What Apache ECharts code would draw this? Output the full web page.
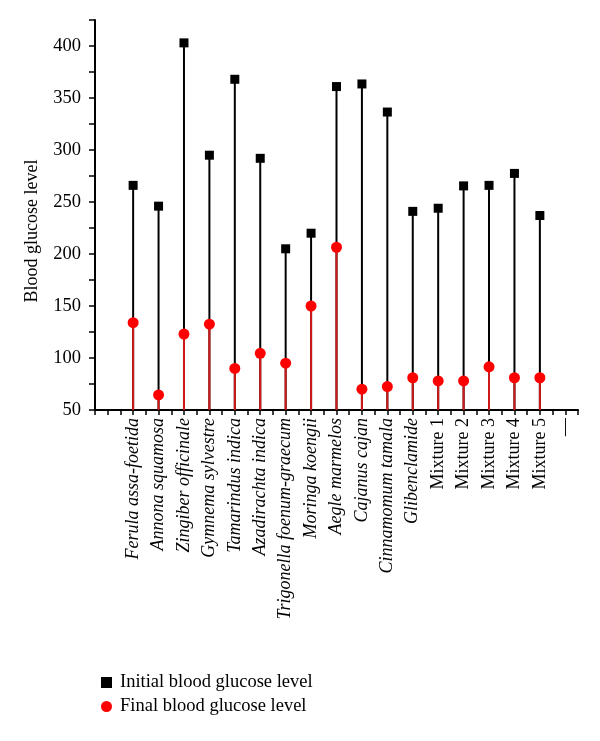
<!DOCTYPE html>
<html>
<head>
<meta charset="utf-8">
<script src="https://cdn.jsdelivr.net/npm/echarts@6/dist/echarts.min.js"></script>
<style>html,body{margin:0;padding:0;background:#fff;}#c{width:600px;height:741px;}</style>
</head>
<body>
<div id="c"></div>
<script>
const categories = ['Ferula assa-foetida','Annona squamosa','Zingiber officinale','Gymnema sylvestre','Tamarindus indica','Azadirachta indica','Trigonella foenum-graecum','Moringa koengii','Aegle marmelos','Cajanus cajan','Cinnamomum tamala','Glibenclamide','Mixture 1','Mixture 2','Mixture 3','Mixture 4','Mixture 5','\u2014'];
const initialLevels = [266, 246, 403, 295, 368, 292, 205, 220, 361, 363.5, 336.5, 241, 244, 265.5, 266, 277.5, 237];
const finalLevels = [134, 64.5, 123, 132.5, 90, 104.5, 95, 150, 206.5, 70, 72.5, 81, 78, 78, 91.5, 81, 81];
const yTickLabels = [50, 100, 150, 200, 250, 300, 350, 400];
const seriesNames = ['Initial blood glucose level', 'Final blood glucose level'];
const yTitle = 'Blood glucose level';

const FONT = '"Liberation Serif", "DejaVu Serif", serif';
const initPts = initialLevels.map((v, i) => [i + 1, v]);
const finPts = finalLevels.map((v, i) => [i + 1, v]);

const chart = echarts.init(document.getElementById('c'), null, {renderer: 'canvas'});
chart.setOption({
  animation: false,
  backgroundColor: '#fff',
  grid: {left: 95, right: 22, top: 20, bottom: 331, containLabel: false},
  xAxis: {
    type: 'value', min: -0.5, max: 18.5, interval: 0.5,
    axisLine: {show: true, onZero: false, lineStyle: {color: '#000', width: 2}},
    axisTick: {show: true, inside: false, length: 5, lineStyle: {color: '#000', width: 1.5}},
    splitLine: {show: false},
    axisLabel: {
      rotate: 90, margin: 8, color: '#000', fontFamily: FONT, fontSize: 18,
      showMinLabel: true, showMaxLabel: true,
      formatter: function (v) {
        if (!Number.isInteger(v) || v < 1 || v > categories.length) return '';
        const name = categories[v - 1];
        const roman = /^Mixture/.test(name) || name === '\u2014';
        return roman ? '{r|' + name + '}' : '{i|' + name + '}';
      },
      rich: {
        i: {fontStyle: 'italic', fontFamily: FONT, fontSize: 18, color: '#000'},
        r: {fontStyle: 'normal', fontFamily: FONT, fontSize: 18, color: '#000'}
      }
    }
  },
  yAxis: {
    type: 'value', min: 50, max: 425, interval: 25,
    axisLine: {show: true, onZero: false, lineStyle: {color: '#000', width: 2}},
    axisTick: {show: true, inside: false, length: 6, lineStyle: {color: '#000', width: 1.5}},
    splitLine: {show: false},
    axisLabel: {
      margin: 14, color: '#000', fontFamily: FONT, fontSize: 18.5,
      formatter: function (v) { return yTickLabels.indexOf(v) >= 0 ? String(v) : ''; }
    }
  },
  legend: {
    orient: 'vertical', left: 101, top: 673, padding: 0, itemWidth: 11, itemHeight: 11, itemGap: 5,
    textStyle: {fontFamily: FONT, fontSize: 18.5, color: '#000', padding: [0, 0, 0, 3]},
    data: [
      {name: seriesNames[0], icon: 'rect'},
      {name: seriesNames[1], icon: 'circle'}
    ]
  },
  graphic: [{
    type: 'text', x: 32, y: 231, rotation: Math.PI / 2,
    style: {text: yTitle, font: '18px ' + FONT, fill: '#000', align: 'center', verticalAlign: 'middle'}
  }],
  series: [
    {
      name: seriesNames[0] + ' stem', type: 'bar', data: initPts, barWidth: 2, barGap: '-100%',
      itemStyle: {color: '#000'}, silent: true, z: 2, legendHoverLink: false
    },
    {
      name: seriesNames[1] + ' stem', type: 'bar', data: finPts, barWidth: 2, barGap: '-100%',
      itemStyle: {color: '#d01818'}, silent: true, z: 3, legendHoverLink: false
    },
    {
      name: seriesNames[0], type: 'scatter', data: initPts, symbol: 'rect', symbolSize: 9,
      itemStyle: {color: '#000', opacity: 1}, z: 4
    },
    {
      name: seriesNames[1], type: 'scatter', data: finPts, symbol: 'circle', symbolSize: 11,
      itemStyle: {color: '#ff0000', opacity: 1}, z: 5
    }
  ]
});
</script>
</body>
</html>
